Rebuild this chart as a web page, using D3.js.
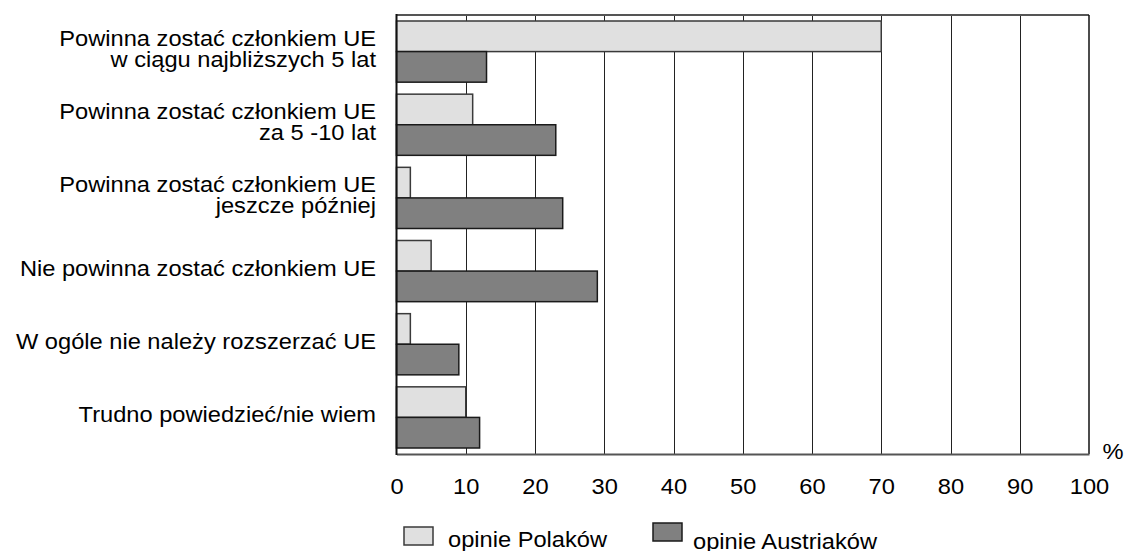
<!DOCTYPE html>
<html>
<head>
<meta charset="utf-8">
<script src="https://cdn.jsdelivr.net/npm/d3@7"></script>
<style>
  html, body { margin: 0; padding: 0; background: #fff; }
  svg { display: block; font-family: "Liberation Sans", Arial, sans-serif; }
</style>
</head>
<body>
<svg id="chart" width="1128" height="551"></svg>
<script>
const categories = [
  "Powinna zostać członkiem UE\nw ciągu najbliższych 5 lat",
  "Powinna zostać członkiem UE\nza 5 -10 lat",
  "Powinna zostać członkiem UE\njeszcze później",
  "Nie powinna zostać członkiem UE",
  "W ogóle nie należy rozszerzać UE",
  "Trudno powiedzieć/nie wiem"
];
const seriesNames = ["opinie Polaków", "opinie Austriaków"];
const polacy = [70, 11, 2, 5, 2, 10];
const austriacy = [13, 23, 24, 29, 9, 12];
const tickValues = [0, 10, 20, 30, 40, 50, 60, 70, 80, 90, 100];
const unitLabel = "%";

const seriesValues = [polacy, austriacy];
const fills = ["#e0e0e0", "#808080"];
const strokes = ["#3a3a3a", "#1a1a1a"];
const stretch = "scale(1.10,1)";
const fs = 21.5;

const svg = d3.select("#chart");
const pTop = 15, pBottom = 454, pLeft = 396.5, pRight = 1089;

const x = d3.scaleLinear().domain([0, 100]).range([pLeft, pRight]);
const y = d3.scaleBand().domain(categories).range([pTop, pBottom])
  .paddingInner(0.164).paddingOuter(0.082);
const sub = d3.scaleBand().domain(seriesNames).range([0, y.bandwidth()]);

// gridlines
svg.append("g").selectAll("line").data(tickValues.filter(d => d > 0 && d < 100)).join("line")
  .attr("x1", d => Math.round(x(d)) + 0.5).attr("x2", d => Math.round(x(d)) + 0.5)
  .attr("y1", pTop).attr("y2", pBottom)
  .attr("stroke", "#222").attr("stroke-width", 1);

// frame top and right
svg.append("line").attr("x1", pLeft).attr("x2", pRight).attr("y1", pTop).attr("y2", pTop)
  .attr("stroke", "#555").attr("stroke-width", 2);
svg.append("line").attr("x1", pRight).attr("x2", pRight).attr("y1", pTop).attr("y2", pBottom)
  .attr("stroke", "#111").attr("stroke-width", 1.5);

// bars
const rows = categories.map((c, i) => ({ c, vals: seriesValues.map((s, j) => ({ name: seriesNames[j], v: s[i], j })) }));
const g = svg.append("g").selectAll("g").data(rows).join("g")
  .attr("transform", d => `translate(0,${y(d.c)})`);
g.selectAll("rect").data(d => d.vals).join("rect")
  .attr("x", x(0))
  .attr("y", d => sub(d.name))
  .attr("width", d => x(d.v) - x(0))
  .attr("height", sub.bandwidth())
  .attr("fill", d => fills[d.j])
  .attr("stroke", d => strokes[d.j])
  .attr("stroke-width", 1.5);

// x axis
const xAxis = svg.append("g").attr("transform", `translate(0,${pBottom})`)
  .call(d3.axisBottom(x).tickValues(tickValues).tickSize(0).tickPadding(25));
xAxis.select(".domain").attr("stroke", "#555").attr("stroke-width", 2);
xAxis.selectAll("text").attr("font-size", fs).attr("fill", "#000")
  .attr("font-family", "'Liberation Sans', Arial, sans-serif")
  .attr("transform", stretch);

// left axis line
svg.append("line").attr("x1", pLeft).attr("x2", pLeft).attr("y1", pTop - 1).attr("y2", pBottom + 1)
  .attr("stroke", "#111").attr("stroke-width", 2);

// category labels
const lineGap = 21;
svg.append("g").selectAll("text").data(categories).join("text")
  .attr("text-anchor", "end")
  .attr("font-size", fs)
  .attr("fill", "#000")
  .attr("transform", `translate(376,0) ${stretch}`)
  .each(function (d) {
    const lines = d.split("\n");
    const center = y(d) + y.bandwidth() / 2 + 5;
    const t = d3.select(this);
    lines.forEach((ln, i) => {
      t.append("tspan").attr("x", 0)
        .attr("y", center + (i - (lines.length - 1) / 2) * lineGap)
        .text(ln);
    });
  });

// unit label
svg.append("text").attr("transform", `translate(1113,459) ${stretch}`).attr("text-anchor", "middle")
  .attr("font-size", fs).text(unitLabel);

// legend
const legendPos = [{ bx: 404, by: 527, tx: 448, ty: 547 }, { bx: 653, by: 523, tx: 693, ty: 549 }];
const lg = svg.append("g").selectAll("g").data(seriesNames).join("g");
lg.append("rect")
  .attr("x", (d, i) => legendPos[i].bx).attr("y", (d, i) => legendPos[i].by)
  .attr("width", 29).attr("height", 18)
  .attr("fill", (d, i) => fills[i]).attr("stroke", (d, i) => strokes[i]).attr("stroke-width", 1.5);
lg.append("text")
  .attr("transform", (d, i) => `translate(${legendPos[i].tx},${legendPos[i].ty}) ${stretch}`)
  .attr("font-size", fs).text(d => d);
</script>
</body>
</html>
